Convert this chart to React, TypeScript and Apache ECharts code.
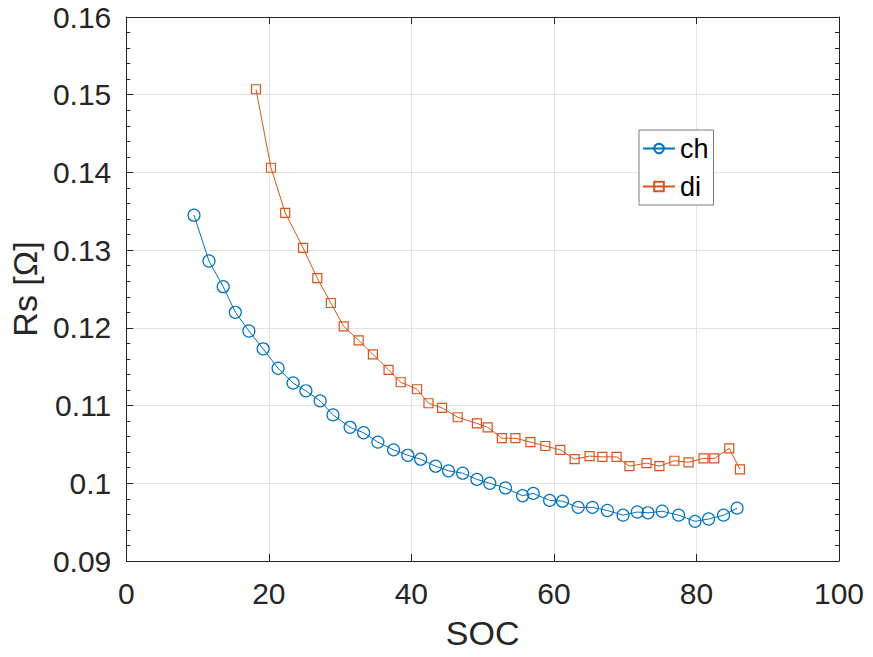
import React, { useEffect, useRef } from "react";
import * as echarts from "echarts";

const chSOC = [9.5, 11.6, 13.6, 15.3, 17.2, 19.2, 21.3, 23.4, 25.2, 27.2, 29.0, 31.4, 33.3, 35.3, 37.5, 39.5, 41.3, 43.4, 45.2, 47.2, 49.2, 51.0, 53.2, 55.6, 57.1, 59.4, 61.2, 63.4, 65.4, 67.5, 69.7, 71.7, 73.2, 75.2, 77.5, 79.8, 81.7, 83.8, 85.7];
const chRs = [0.1345, 0.1286, 0.1253, 0.1220, 0.1196, 0.1173, 0.1148, 0.1129, 0.1119, 0.1106, 0.1088, 0.1072, 0.1065, 0.1053, 0.1043, 0.1036, 0.1031, 0.1022, 0.1016, 0.1013, 0.1005, 0.1000, 0.0994, 0.0984, 0.0987, 0.0978, 0.0977, 0.0969, 0.0969, 0.0965, 0.0959, 0.0963, 0.0962, 0.0964, 0.0959, 0.0951, 0.0954, 0.0959, 0.0968];

const diSOC = [18.2, 20.3, 22.3, 24.8, 26.8, 28.7, 30.5, 32.6, 34.6, 36.8, 38.5, 40.8, 42.4, 44.3, 46.5, 49.2, 50.7, 52.7, 54.6, 56.7, 58.8, 60.9, 62.9, 65.0, 66.8, 68.8, 70.6, 73.0, 74.8, 76.9, 78.9, 81.0, 82.5, 84.6, 86.1];
const diRs = [0.1507, 0.1406, 0.1348, 0.1303, 0.1264, 0.1232, 0.1202, 0.1184, 0.1166, 0.1146, 0.1130, 0.1121, 0.1103, 0.1097, 0.1085, 0.1077, 0.1072, 0.1058, 0.1058, 0.1053, 0.1048, 0.1043, 0.1031, 0.1035, 0.1034, 0.1034, 0.1022, 0.1026, 0.1022, 0.1029, 0.1027, 0.1032, 0.1032, 0.1045, 0.1018];

const seriesNames = ["ch", "di"];
const xName = "SOC";
const yName = "Rs [Ω]";

const FONT = "'Liberation Sans', Arial, Helvetica, sans-serif";
const AXIS = "#262626";
const GRID = "#e3e3e3";

export default function App() {
  const ref = useRef<HTMLDivElement>(null);
  useEffect(() => {
    if (!ref.current) return;
    const chart = echarts.init(ref.current, null, { renderer: "svg" });
    const pair = (xs: number[], ys: number[]) => xs.map((x, i) => [x, ys[i]]);
    const baseX = {
      type: "value" as const,
      min: 0,
      max: 100,
      interval: 20,
    };
    const baseY = {
      type: "value" as const,
      min: 0.09,
      max: 0.16,
      interval: 0.01,
    };
    chart.setOption({
      animation: false,
      backgroundColor: "#fff",
      textStyle: { fontFamily: FONT },
      grid: { left: 125, top: 17, width: 714, height: 544, containLabel: false },
      legend: {
        orient: "vertical",
        left: 639,
        top: 130,
        data: seriesNames,
        borderColor: "#7a7a7a",
        borderWidth: 1,
        padding: [5, 5, 5, 3],
        itemGap: 11,
        itemWidth: 32,
        itemHeight: 12,
        backgroundColor: "#fff",
        textStyle: { fontSize: 27, color: "#000", fontFamily: FONT },
      },
      xAxis: [
        {
          ...baseX,
          position: "bottom",
          name: xName,
          nameLocation: "middle",
          nameGap: 55,
          nameTextStyle: { fontSize: 34, color: AXIS, fontFamily: FONT },
          axisLine: { show: true, onZero: false, lineStyle: { color: AXIS, width: 1 } },
          axisTick: { show: true, inside: true, length: 7, lineStyle: { color: AXIS } },
          axisLabel: { fontSize: 30, color: AXIS, margin: 17, fontFamily: FONT },
          splitLine: { show: true, lineStyle: { color: GRID, width: 1 } },
        },
        {
          ...baseX,
          position: "top",
          axisLine: { show: true, onZero: false, lineStyle: { color: AXIS, width: 1 } },
          axisTick: { show: true, inside: true, length: 7, lineStyle: { color: AXIS } },
          axisLabel: { show: false },
          splitLine: { show: false },
        },
      ],
      yAxis: [
        {
          ...baseY,
          position: "left",
          name: yName,
          nameLocation: "middle",
          nameGap: 77,
          nameRotate: 90,
          nameTextStyle: { fontSize: 34, color: AXIS, fontFamily: FONT },
          axisLine: { show: true, onZero: false, lineStyle: { color: AXIS, width: 1 } },
          axisTick: { show: true, inside: true, length: 7, lineStyle: { color: AXIS } },
          minorTick: { show: true, splitNumber: 5, length: 4, lineStyle: { color: AXIS } },
          axisLabel: {
            fontSize: 30,
            color: AXIS,
            margin: 15,
            fontFamily: FONT,
            formatter: (v: number) => String(parseFloat(v.toFixed(3))),
          },
          splitLine: { show: true, lineStyle: { color: GRID, width: 1 } },
        },
        {
          ...baseY,
          position: "right",
          axisLine: { show: true, onZero: false, lineStyle: { color: AXIS, width: 1 } },
          axisTick: { show: true, inside: true, length: 7, lineStyle: { color: AXIS } },
          minorTick: { show: true, splitNumber: 5, length: 4, lineStyle: { color: AXIS } },
          axisLabel: { show: false },
          splitLine: { show: false },
        },
      ],
      series: [
        {
          name: seriesNames[0],
          type: "line",
          xAxisIndex: 0,
          yAxisIndex: 0,
          data: pair(chSOC, chRs),
          symbol: "circle",
          symbolSize: 12,
          showAllSymbol: true,
          color: "#0072BD",
          lineStyle: { color: "#0072BD", width: 1 },
          itemStyle: { color: "rgba(255,255,255,0)", borderColor: "#0072BD", borderWidth: 1.2 },
        },
        {
          name: seriesNames[1],
          type: "line",
          xAxisIndex: 0,
          yAxisIndex: 0,
          data: pair(diSOC, diRs),
          symbol: "rect",
          symbolSize: 9,
          showAllSymbol: true,
          color: "#D95319",
          lineStyle: { color: "#D95319", width: 1 },
          itemStyle: { color: "rgba(255,255,255,0)", borderColor: "#D95319", borderWidth: 1.2 },
        },
      ],
    });
    return () => chart.dispose();
  }, []);
  return (
    <div
      ref={ref}
      style={{ position: "fixed", left: 0, top: 0, width: 873, height: 657 }}
    />
  );
}
